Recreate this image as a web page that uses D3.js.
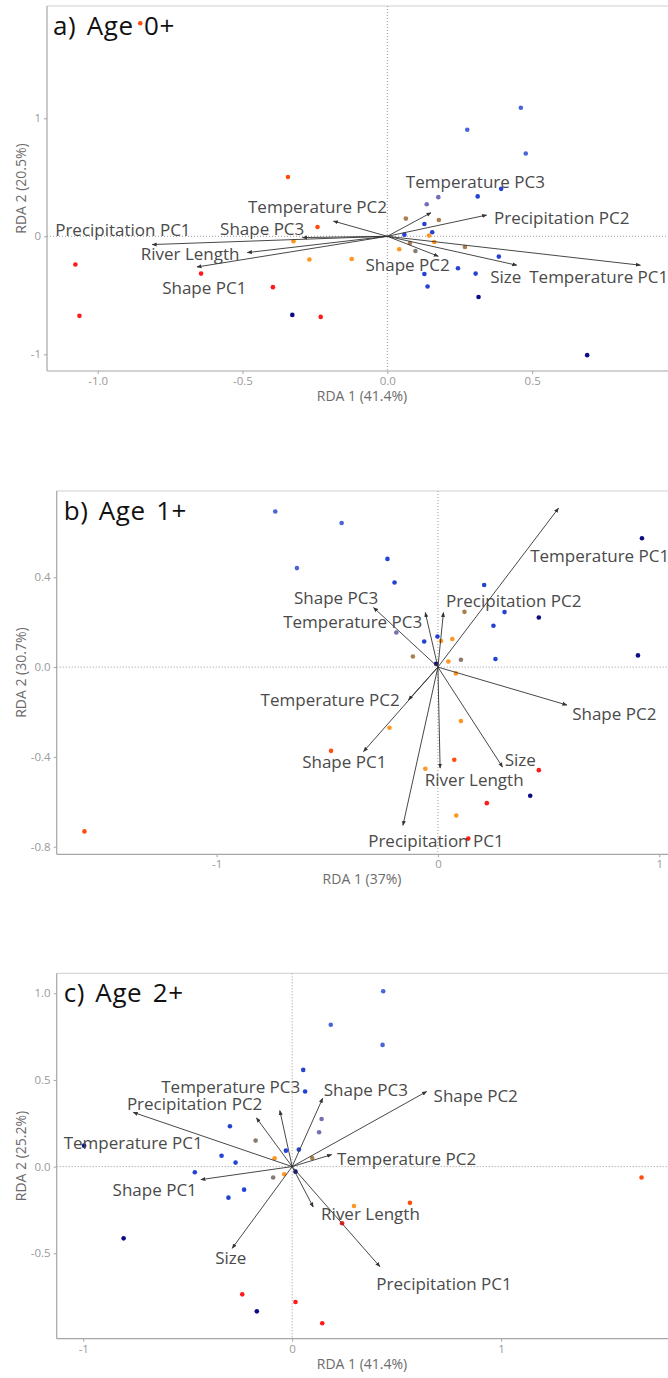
<!DOCTYPE html>
<html>
<head>
<meta charset="utf-8">
<script src="https://cdn.jsdelivr.net/npm/d3@7"></script>
<style>
  body { margin: 0; background: #fff; }
  svg { display: block; }
  text { font-family: "Open Sans", sans-serif; }
</style>
</head>
<body>
<svg id="fig" width="668" height="1378"></svg>
<script>
// Site colour groups, from south (red) to north (navy)
const groupColors = ["#ff1a1a", "#ff4d0d", "#ff961f", "#a8804f", "#8a7b70",
                     "#7270b4", "#4a66d6", "#2442d4", "#0c0c86"];

// Site scores [RDA1, RDA2, colour group] for each age class
const sitesAge0 = [
  [-0.853, 1.805, 1], [-0.343, 0.502, 1], [0.461, 1.089, 6], [0.276, 0.903, 6],
  [0.478, 0.702, 6], [0.393, 0.402, 7], [0.312, 0.338, 7], [0.176, 0.332, 5],
  [-1.077, -0.239, 0], [-1.063, -0.674, 0], [-0.643, -0.316, 0], [-0.395, -0.431, 0],
  [-0.328, -0.666, 8], [-0.230, -0.683, 0], [-0.241, 0.079, 1], [-0.324, -0.042, 2],
  [-0.269, -0.197, 2], [0.136, 0.271, 5], [0.064, 0.150, 3], [0.178, 0.138, 3],
  [0.128, 0.104, 7], [0.059, 0.014, 7], [0.155, 0.034, 7], [0.144, 0.006, 2],
  [0.078, -0.057, 3], [0.162, -0.048, 2], [0.268, -0.091, 3], [0.041, -0.110, 2],
  [0.097, -0.124, 4], [-0.123, -0.192, 2], [0.385, -0.172, 7], [0.244, -0.271, 7],
  [0.128, -0.319, 7], [0.305, -0.316, 7], [0.139, -0.426, 7], [0.315, -0.514, 8],
  [0.690, -1.007, 8]
];
const sitesAge1 = [
  [-0.735, 0.693, 6], [-0.637, 0.441, 6], [-0.435, 0.642, 6], [-0.228, 0.482, 7],
  [-0.196, 0.377, 7], [0.922, 0.574, 8], [0.209, 0.366, 7], [0.301, 0.245, 7],
  [0.456, 0.221, 8], [0.251, 0.184, 7], [0.120, 0.246, 3], [-0.188, 0.154, 5],
  [-0.062, 0.114, 7], [-0.002, 0.136, 7], [0.014, 0.116, 2], [0.065, 0.125, 2],
  [-0.113, 0.047, 3], [0.047, 0.025, 2], [0.104, 0.033, 4], [0.260, 0.036, 7],
  [0.904, 0.052, 8], [-0.008, 0.015, 8], [0.081, -0.028, 2], [-1.597, -0.732, 1],
  [-0.483, -0.373, 1], [-0.219, -0.270, 2], [0.104, -0.240, 2], [0.074, -0.413, 1],
  [-0.057, -0.453, 2], [0.456, -0.459, 0], [0.417, -0.573, 8], [0.221, -0.606, 0],
  [0.083, -0.661, 2], [0.137, -0.764, 0]
];
const sitesAge2 = [
  [0.185, 0.818, 6], [0.053, 0.558, 7], [0.062, 0.433, 7], [-0.298, 0.233, 7],
  [0.141, 0.275, 5], [0.129, 0.198, 5], [-0.175, 0.150, 4], [-0.996, 0.121, 8],
  [0.436, 1.012, 6], [0.433, 0.702, 6], [-0.030, 0.092, 7], [0.032, 0.098, 7],
  [-0.338, 0.063, 7], [-0.271, 0.023, 7], [-0.084, 0.048, 2], [0.096, 0.050, 3],
  [-0.466, -0.033, 7], [-0.091, -0.063, 4], [-0.038, -0.044, 2], [0.016, -0.029, 8],
  [-0.230, -0.133, 7], [-0.305, -0.179, 7], [-0.807, -0.414, 8], [-0.239, -0.737, 0],
  [0.016, -0.781, 0], [-0.169, -0.835, 8], [0.144, -0.904, 0], [1.673, -0.063, 1],
  [0.296, -0.227, 2], [0.564, -0.209, 1], [0.239, -0.327, 0]
];

// Environmental vectors: arrow tip (x, y) and label position (lx, ly)
const vectorsAge0 = [
  { v: "Precipitation PC1", x: -0.812, y: -0.070, lx: -0.913, ly: 0.057 },
  { v: "River Length",      x: -0.483, y: -0.138, lx: -0.681, ly: -0.146 },
  { v: "Shape PC1",         x: -0.657, y: -0.260, lx: -0.632, ly: -0.434 },
  { v: "Shape PC3",         x: -0.293, y: -0.011, lx: -0.432, ly: 0.065 },
  { v: "Temperature PC2",   x: -0.186, y: 0.129,  lx: -0.241, ly: 0.254 },
  { v: "Temperature PC3",   x: 0.151,  y: 0.200,  lx: 0.304,  ly: 0.465 },
  { v: "Precipitation PC2", x: 0.343,  y: 0.180,  lx: 0.602,  ly: 0.163 },
  { v: "Shape PC2",         x: 0.176,  y: -0.169, lx: 0.070,  ly: -0.239 },
  { v: "Size",              x: 0.447,  y: -0.245, lx: 0.409,  ly: -0.344 },
  { v: "Temperature PC1",   x: 0.874,  y: -0.245, lx: 0.730,  ly: -0.344 }
];
const vectorsAge1 = [
  { v: "Temperature PC1",   x: 0.545,  y: 0.708,  lx: 0.731,  ly: 0.499 },
  { v: "Precipitation PC2", x: 0.025,  y: 0.243,  lx: 0.343,  ly: 0.295 },
  { v: "Temperature PC3",   x: -0.057, y: 0.243,  lx: -0.385, ly: 0.203 },
  { v: "Shape PC3",         x: -0.291, y: 0.265,  lx: -0.460, ly: 0.312 },
  { v: "Temperature PC2",   x: -0.133, y: -0.146, lx: -0.487, ly: -0.146 },
  { v: "Shape PC1",         x: -0.336, y: -0.376, lx: -0.423, ly: -0.420 },
  { v: "Precipitation PC1", x: -0.158, y: -0.705, lx: -0.009, ly: -0.773 },
  { v: "River Length",      x: 0.010,  y: -0.450, lx: 0.164,  ly: -0.502 },
  { v: "Size",              x: 0.292,  y: -0.445, lx: 0.372,  ly: -0.413 },
  { v: "Shape PC2",         x: 0.583,  y: -0.169, lx: 0.797,  ly: -0.205 }
];
const vectorsAge2 = [
  { v: "Temperature PC1",   x: -0.761, y: 0.313,  lx: -0.761, ly: 0.140 },
  { v: "Precipitation PC2", x: -0.171, y: 0.281,  lx: -0.467, ly: 0.362 },
  { v: "Temperature PC3",   x: -0.059, y: 0.323,  lx: -0.294, ly: 0.463 },
  { v: "Shape PC3",         x: 0.146,  y: 0.394,  lx: 0.353,  ly: 0.443 },
  { v: "Shape PC2",         x: 0.644,  y: 0.433,  lx: 0.879,  ly: 0.410 },
  { v: "Temperature PC2",   x: 0.189,  y: 0.069,  lx: 0.548,  ly: 0.044 },
  { v: "Shape PC1",         x: -0.437, y: -0.075, lx: -0.658, ly: -0.131 },
  { v: "Size",              x: -0.287, y: -0.471, lx: -0.294, ly: -0.527 },
  { v: "River Length",      x: 0.101,  y: -0.233, lx: 0.375,  ly: -0.269 },
  { v: "Precipitation PC1", x: 0.420,  y: -0.577, lx: 0.727,  ly: -0.673 }
];

// Axis ticks and labels
const ticksXAge0 = [-1.0, -0.5, 0.0, 0.5], tickLabelsXAge0 = ["-1.0", "-0.5", "0.0", "0.5"];
const ticksYAge0 = [-1, 0, 1],             tickLabelsYAge0 = ["-1", "0", "1"];
const ticksXAge1 = [-1, 0, 1],             tickLabelsXAge1 = ["-1", "0", "1"];
const ticksYAge1 = [-0.8, -0.4, 0.0, 0.4], tickLabelsYAge1 = ["-0.8", "-0.4", "0.0", "0.4"];
const ticksXAge2 = [-1, 0, 1],             tickLabelsXAge2 = ["-1", "0", "1"];
const ticksYAge2 = [-0.5, 0.0, 0.5, 1.0],  tickLabelsYAge2 = ["-0.5", "0.0", "0.5", "1.0"];

const panels = [
  { title: "a) Age 0+", xTitle: "RDA 1 (41.4%)", yTitle: "RDA 2 (20.5%)",
    sites: sitesAge0, vectors: vectorsAge0,
    xTicks: ticksXAge0, xLabels: tickLabelsXAge0, yTicks: ticksYAge0, yLabels: tickLabelsYAge0,
    xDomain: [-1.175, 0.976], yDomain: [-1.1415, 1.9517],
    box: { left: 47, right: 670, top: 6, bottom: 371 } },
  { title: "b) Age 1+", xTitle: "RDA 1 (37%)", yTitle: "RDA 2 (30.7%)",
    sites: sitesAge1, vectors: vectorsAge1,
    xTicks: ticksXAge1, xLabels: tickLabelsXAge1, yTicks: ticksYAge1, yLabels: tickLabelsYAge1,
    xDomain: [-1.7225, 1.0487], yDomain: [-0.8339, 0.7844],
    box: { left: 56.7, right: 670, top: 491, bottom: 854.3 } },
  { title: "c) Age 2+", xTitle: "RDA 1 (41.4%)", yTitle: "RDA 2 (25.2%)",
    sites: sitesAge2, vectors: vectorsAge2,
    xTicks: ticksXAge2, xLabels: tickLabelsXAge2, yTicks: ticksYAge2, yLabels: tickLabelsYAge2,
    xDomain: [-1.1274, 1.8092], yDomain: [-0.9929, 1.1152],
    box: { left: 56.7, right: 670, top: 973.3, bottom: 1338.7 } }
];

const svg = d3.select("#fig");

// Small filled arrowhead shared by all vectors
svg.append("defs").append("marker")
  .attr("id", "head")
  .attr("viewBox", "0 0 10 10")
  .attr("refX", 9).attr("refY", 5)
  .attr("markerWidth", 5).attr("markerHeight", 5)
  .attr("markerUnits", "userSpaceOnUse")
  .attr("orient", "auto")
  .append("path").attr("d", "M0,1 L10,5 L0,9 Z").attr("fill", "#333");

panels.forEach((p, i) => {
  const b = p.box;
  const x = d3.scaleLinear().domain(p.xDomain).range([b.left, b.right]);
  const y = d3.scaleLinear().domain(p.yDomain).range([b.bottom, b.top]);
  const g = svg.append("g").attr("class", "panel");

  const clipId = "clip" + i;
  g.append("clipPath").attr("id", clipId)
    .append("rect").attr("x", b.left).attr("y", b.top)
    .attr("width", b.right - b.left).attr("height", b.bottom - b.top);

  // Panel frame
  g.append("line").attr("x1", b.left).attr("x2", b.right).attr("y1", b.top).attr("y2", b.top)
    .attr("stroke", "#cfcfcf").attr("stroke-width", 1);

  // Zero reference lines
  g.append("line").attr("x1", x(0)).attr("x2", x(0)).attr("y1", b.top).attr("y2", b.bottom)
    .attr("stroke", "#9a9a9a").attr("stroke-width", 1).attr("stroke-dasharray", "1,2");
  g.append("line").attr("x1", b.left).attr("x2", b.right).attr("y1", y(0)).attr("y2", y(0))
    .attr("stroke", "#9a9a9a").attr("stroke-width", 1).attr("stroke-dasharray", "1,2");

  // Axes
  const xAxis = d3.axisBottom(x).tickValues(p.xTicks)
    .tickFormat((d, k) => p.xLabels[k]).tickSize(3).tickPadding(3);
  const yAxis = d3.axisLeft(y).tickValues(p.yTicks)
    .tickFormat((d, k) => p.yLabels[k]).tickSize(3).tickPadding(3);

  const gx = g.append("g").attr("transform", `translate(0,${b.bottom})`).call(xAxis);
  const gy = g.append("g").attr("transform", `translate(${b.left},0)`).call(yAxis);
  [gx, gy].forEach(a => {
    a.select(".domain").attr("stroke", "#a6a6a6").attr("stroke-width", 1.2);
    a.selectAll(".tick line").attr("stroke", "#a6a6a6");
    a.selectAll(".tick text").attr("fill", "#9a9a9a").style("font-size", "11.5px")
      .style("font-family", "'Open Sans', sans-serif");
  });
  gx.select(".domain").attr("d", `M${b.left},0H${b.right}`);
  gy.select(".domain").attr("d", `M0,${b.top}V${b.bottom}`);

  // Axis titles
  g.append("text").attr("x", 362).attr("y", b.bottom + 30)
    .attr("text-anchor", "middle").attr("fill", "#6b6b6b").style("font-size", "14px")
    .text(p.xTitle);
  g.append("text")
    .attr("transform", `translate(20,${(b.top + b.bottom) / 2}) rotate(-90)`)
    .attr("text-anchor", "middle").attr("dominant-baseline", "central")
    .attr("fill", "#6b6b6b").style("font-size", "14px")
    .text(p.yTitle);

  const plot = g.append("g").attr("clip-path", `url(#${clipId})`);

  // Site points
  plot.selectAll("circle.site").data(p.sites).join("circle")
    .attr("class", "site")
    .attr("cx", d => x(d[0])).attr("cy", d => y(d[1]))
    .attr("r", 2.3)
    .attr("fill", d => groupColors[d[2]]);

  // Vectors
  plot.selectAll("line.vec").data(p.vectors).join("line")
    .attr("class", "vec")
    .attr("x1", x(0)).attr("y1", y(0))
    .attr("x2", d => x(d.x)).attr("y2", d => y(d.y))
    .attr("stroke", "#333").attr("stroke-width", 0.9)
    .attr("marker-end", "url(#head)");

  plot.selectAll("text.vlab").data(p.vectors).join("text")
    .attr("class", "vlab")
    .attr("x", d => x(d.lx)).attr("y", d => y(d.ly))
    .attr("text-anchor", "middle").attr("dominant-baseline", "central")
    .attr("fill", "#4a4a4a").style("font-size", "17px")
    .text(d => d.v);

  // Panel title
  g.append("text").attr("x", b.left + 6 + (i === 0 ? 0 : 1)).attr("y", b.top + 29)
    .attr("fill", "#111").style("font-size", "26px")
    .attr("letter-spacing", "0.6px").attr("word-spacing", "3px")
    .text(p.title);
});
</script>
</body>
</html>
